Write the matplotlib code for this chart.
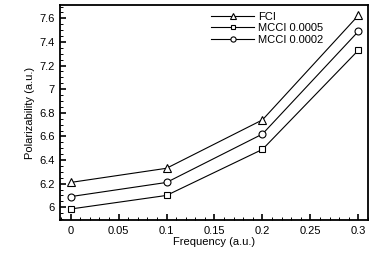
import numpy as np
import matplotlib.pyplot as plt
from matplotlib.ticker import MultipleLocator

# data
freq = [0.0, 0.1, 0.2, 0.3]
fci = [6.21, 6.33, 6.74, 7.625]
mcci_0005 = [5.985, 6.10, 6.49, 7.33]
mcci_0002 = [6.09, 6.21, 6.62, 7.49]

plt.rcParams['font.family'] = ['Liberation Sans', 'DejaVu Sans']

fig = plt.figure(figsize=(3.74, 2.64), dpi=100)
ax = fig.add_axes([60/374, 1-220/264, 308/374, 215/264])

mk = dict(color='black', lw=0.8, mfc='white', mec='black', mew=0.8)
ax.plot(freq, fci, marker='^', ms=5.5, label='FCI', **mk)
ax.plot(freq, mcci_0005, marker='s', ms=4.5, label='MCCI 0.0005', **mk)
ax.plot(freq, mcci_0002, marker='o', ms=5, label='MCCI 0.0002', **mk)

ax.set_xlim(-0.011, 0.310)
ax.set_ylim(5.892, 7.713)
ax.xaxis.set_major_locator(MultipleLocator(0.05))
ax.xaxis.set_minor_locator(MultipleLocator(0.01))
ax.yaxis.set_major_locator(MultipleLocator(0.2))
ax.yaxis.set_minor_locator(MultipleLocator(0.05))
ax.xaxis.set_major_formatter(plt.FuncFormatter(lambda v, p: '%g' % round(v, 3)))
ax.yaxis.set_major_formatter(plt.FuncFormatter(lambda v, p: '%g' % round(v, 3)))

ax.tick_params(which='both', direction='in', top=False, right=False, labelsize=8, colors='black')
ax.tick_params(which='major', length=4, width=1.2, pad=4)
ax.tick_params(which='minor', length=2, width=0.7)
for s in ax.spines.values():
    s.set_linewidth(1.3)

ax.set_xlabel('Frequency (a.u.)', fontsize=8, labelpad=1)
ax.set_ylabel('Polarizability (a.u.)', fontsize=8, labelpad=3)

ax.legend(loc='upper left', bbox_to_anchor=(0.47, 1.0), frameon=False, fontsize=8,
          handlelength=3.8, handletextpad=0.4, labelspacing=0.15, borderaxespad=0.2,
          markerscale=0.75)

fig.savefig('out.png', dpi=100)
